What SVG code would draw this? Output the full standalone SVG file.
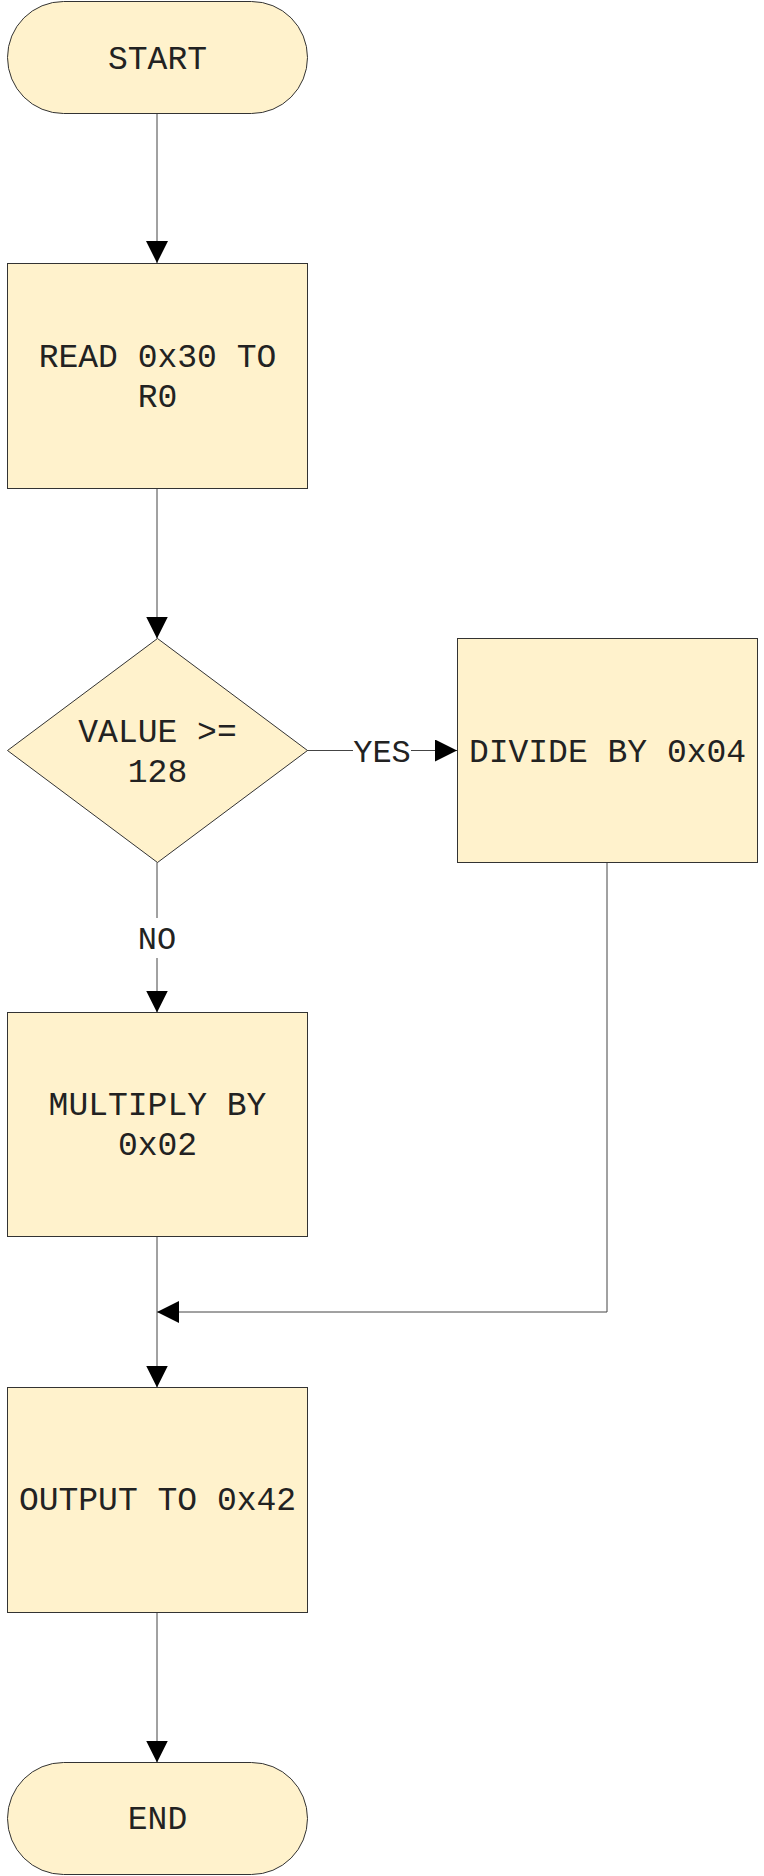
<svg xmlns="http://www.w3.org/2000/svg" width="764" height="1876" viewBox="0 0 764 1876">
<style>
.n{fill:#FFF2CC;stroke:#333;stroke-width:1}
.t{font-family:"Liberation Mono","Courier New",monospace;font-size:33px;fill:#222;text-anchor:middle}
.l{font-family:"Liberation Mono","Courier New",monospace;font-size:32px;fill:#222;text-anchor:middle}
.c{fill:none;stroke:#444;stroke-width:1}
</style>
<defs>
<marker id="a" viewBox="0 0 22 22" refX="22" refY="11" markerWidth="22" markerHeight="22" markerUnits="userSpaceOnUse" orient="auto">
<path d="M0,0 L22,11 L0,22 Z" fill="#000"/>
</marker>
</defs>
<rect width="764" height="1876" fill="#fff"/>
<g id="connectors">
<path class="c" d="M157,114 V263" marker-end="url(#a)"/>
<path class="c" d="M157,488 V638.5" marker-end="url(#a)"/>
<path class="c" d="M307,750.5 H457" marker-end="url(#a)"/>
<path class="c" d="M157,862.5 V1012.5" marker-end="url(#a)"/>
<path class="c" d="M607,862.5 V1312 H157" marker-end="url(#a)"/>
<path class="c" d="M157,1236.5 V1387.5" marker-end="url(#a)"/>
<path class="c" d="M157,1612.5 V1762.5" marker-end="url(#a)"/>
<g id="label-yes">
<rect x="353" y="737" width="58" height="28" fill="#fff"/>
<text class="l" x="382" y="761.5">YES</text>
</g>
<g id="label-no">
<rect x="137" y="918" width="40" height="40" fill="#fff"/>
<text class="l" x="157" y="948.5">NO</text>
</g>
</g>
<g id="start">
<rect class="n" x="7.5" y="1.5" width="300" height="112" rx="56" ry="56"/>
<text class="t" x="157.5" y="69">START</text>
</g>
<g id="read">
<rect class="n" x="7.5" y="263.5" width="300" height="225"/>
<text class="t" x="157.5" y="366.5">READ 0x30 TO</text>
<text class="t" x="157.5" y="406.5">R0</text>
</g>
<g id="decision">
<path class="n" d="M157.5,638.5 L307.5,750.5 L157.5,862.5 L7.5,750.5 Z"/>
<text class="t" x="157.5" y="741.5">VALUE &gt;=</text>
<text class="t" x="157.5" y="782">128</text>
</g>
<g id="divide">
<rect class="n" x="457.5" y="638.5" width="300" height="224"/>
<text class="t" x="607.5" y="761.5">DIVIDE BY 0x04</text>
</g>
<g id="multiply">
<rect class="n" x="7.5" y="1012.5" width="300" height="224"/>
<text class="t" x="157.5" y="1115">MULTIPLY BY</text>
<text class="t" x="157.5" y="1155">0x02</text>
</g>
<g id="output">
<rect class="n" x="7.5" y="1387.5" width="300" height="225"/>
<text class="t" x="157.5" y="1510">OUTPUT TO 0x42</text>
</g>
<g id="end">
<rect class="n" x="7.5" y="1762.5" width="300" height="112" rx="56" ry="56"/>
<text class="t" x="157.5" y="1828.5">END</text>
</g>
</svg>
